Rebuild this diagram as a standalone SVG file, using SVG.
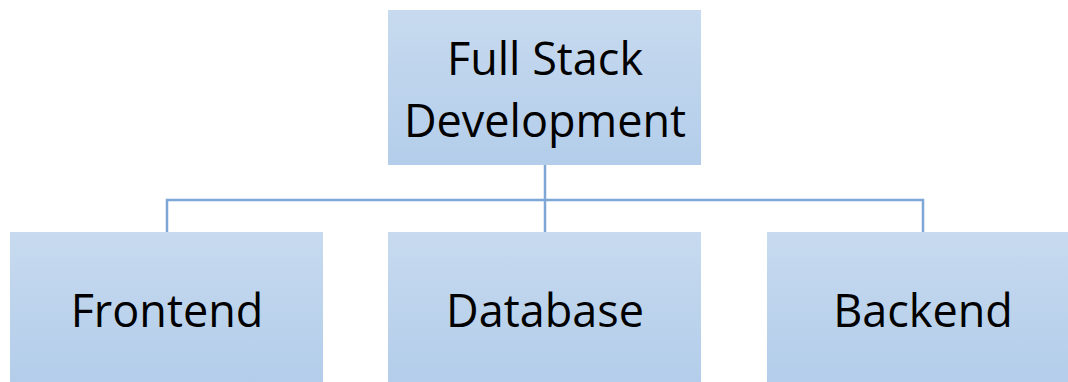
<svg xmlns="http://www.w3.org/2000/svg" width="1068" height="382" viewBox="0 0 1068 382">
<style>
.box{fill:url(#g);}
.lbl{font-family:"Open Sans","Liberation Sans",sans-serif;font-size:45px;fill:#000;text-anchor:middle;}
.conn{fill:none;stroke:#7ea6d6;stroke-width:2.5;}
</style>
<defs>
<linearGradient id="g" x1="0" y1="0" x2="0" y2="1">
<stop offset="0" stop-color="#c7daef"/>
<stop offset="1" stop-color="#b3cdea"/>
</linearGradient>
</defs>
<rect width="1068" height="382" fill="#fff"/>
<g id="connectors">
<path class="conn" d="M545 165V232M167 232V200H923V232"/>
</g>
<g id="fullstack">
<rect class="box" x="388" y="10" width="313" height="155"/>
<text class="lbl" x="545" y="75">Full Stack</text>
<text class="lbl" x="545" y="137">Development</text>
</g>
<g id="frontend">
<rect class="box" x="10" y="232" width="313" height="150"/>
<text class="lbl" x="167" y="327">Frontend</text>
</g>
<g id="database">
<rect class="box" x="388" y="232" width="313" height="150"/>
<text class="lbl" x="545" y="327">Database</text>
</g>
<g id="backend">
<rect class="box" x="767" y="232" width="313" height="150"/>
<text class="lbl" x="923" y="327">Backend</text>
</g>
</svg>
